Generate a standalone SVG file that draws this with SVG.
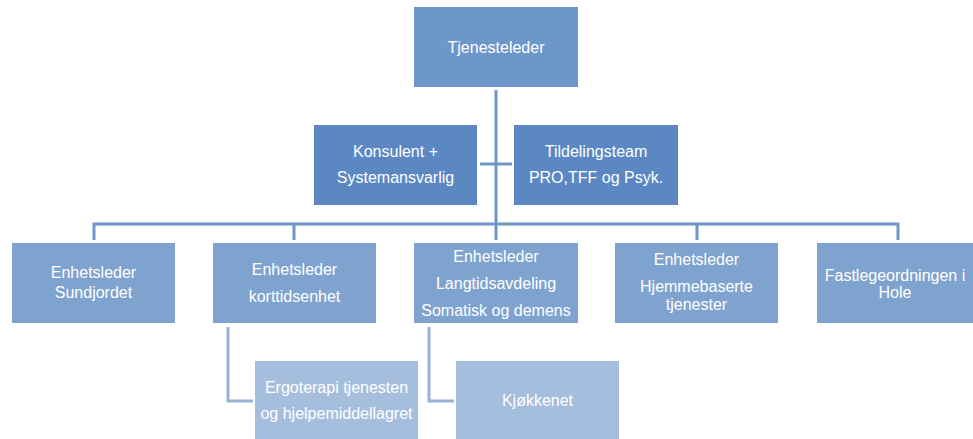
<svg xmlns="http://www.w3.org/2000/svg" width="973" height="439" viewBox="0 0 973 439">
<style>
text{font-family:"Liberation Sans",Arial,sans-serif;font-size:16px;fill:#fff;text-anchor:middle}
.l1{fill:#6E97C9}
.l2{fill:#5B88C2}
.l3{fill:#7FA3CF}
.l4{fill:#A6BEDD}
.c{fill:none;stroke:#7096C8;stroke-width:3}
.c2{fill:none;stroke:#98B2D8;stroke-width:3}
</style>
<rect width="973" height="439" fill="#fff"/>
<g id="connectors">
<path class="c" d="M496 90V240"/>
<path class="c" d="M480 164H512"/>
<path class="c" d="M94 240V224H898V240"/>
<path class="c" d="M294 224V240M697 224V240"/>
<path class="c2" d="M228 327V401H253"/>
<path class="c2" d="M429 327V401H454"/>
</g>
<g id="tjenesteleder"><rect class="l1" x="414" y="7" width="164" height="80"/><text x="496" y="53">Tjenesteleder</text></g>
<g id="konsulent"><rect class="l2" x="314" y="125" width="163" height="80"/><text x="395.5" y="157">Konsulent +</text><text x="395.5" y="183">Systemansvarlig</text></g>
<g id="tildelingsteam"><rect class="l2" x="514" y="125" width="164" height="80"/><text x="596" y="157">Tildelingsteam</text><text x="596" y="183">PRO,TFF og Psyk.</text></g>
<g id="sundjordet"><rect class="l3" x="12" y="243" width="163" height="80"/><text x="93.5" y="278">Enhetsleder</text><text x="93.5" y="298">Sundjordet</text></g>
<g id="korttid"><rect class="l3" x="213" y="243" width="163" height="80"/><text x="294.5" y="275">Enhetsleder</text><text x="294.5" y="302">korttidsenhet</text></g>
<g id="langtid"><rect class="l3" x="414" y="243" width="164" height="80"/><text x="496" y="262">Enhetsleder</text><text x="496" y="289">Langtidsavdeling</text><text x="496" y="316">Somatisk og demens</text></g>
<g id="hjemmebaserte"><rect class="l3" x="615" y="243" width="163" height="80"/><text x="696.5" y="265">Enhetsleder</text><text x="696.5" y="292">Hjemmebaserte</text><text x="696.5" y="310">tjenester</text></g>
<g id="fastlege"><rect class="l3" x="817" y="243" width="156" height="80"/><text x="895" y="281">Fastlegeordningen i</text><text x="895" y="298">Hole</text></g>
<g id="ergoterapi"><rect class="l4" x="255" y="361" width="163" height="78"/><text x="336.5" y="393">Ergoterapi tjenesten</text><text x="336.5" y="419">og hjelpemiddellagret</text></g>
<g id="kjokkenet"><rect class="l4" x="456" y="361" width="163" height="78"/><text x="537.5" y="406">Kjøkkenet</text></g>
</svg>
